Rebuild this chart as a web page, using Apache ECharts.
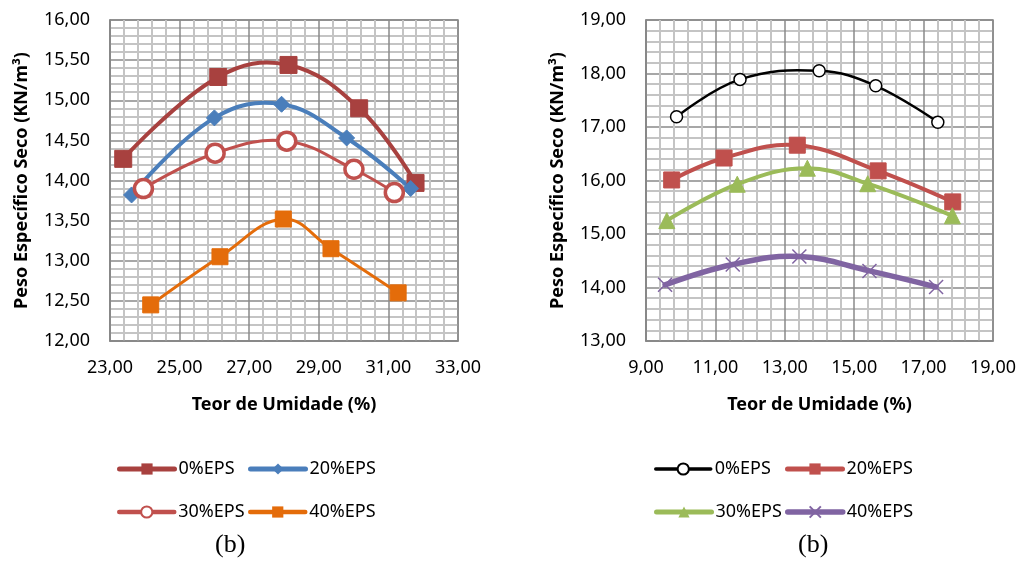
<!DOCTYPE html>
<html>
<head>
<meta charset="utf-8">
<script src="https://cdn.jsdelivr.net/npm/echarts@6/dist/echarts.min.js"></script>
<style>
  html, body { margin: 0; padding: 0; background: #fff; }
  #chart { width: 1019px; height: 578px; }
</style>
</head>
<body>
<div id="chart"></div>
<script>
// Compaction curves: dry unit weight vs. moisture content for EPS mixes

// Left panel
const leftNames = ['0%EPS', '20%EPS', '30%EPS', '40%EPS'];
const leftX0  = [23.38, 26.11, 28.13, 30.16, 31.78];
const leftY0  = [14.27, 15.29, 15.44, 14.90, 13.97];
const leftX20 = [23.62, 26.00, 27.93, 29.80, 31.64];
const leftY20 = [13.82, 14.78, 14.95, 14.53, 13.90];
const leftX30 = [23.96, 26.02, 28.08, 30.01, 31.17];
const leftY30 = [13.90, 14.34, 14.49, 14.14, 13.85];
const leftX40 = [24.17, 26.16, 27.98, 29.35, 31.28];
const leftY40 = [12.45, 13.05, 13.52, 13.15, 12.60];

// Right panel
const rightNames = ['0%EPS', '20%EPS', '30%EPS', '40%EPS'];
const rightX0  = [9.88, 11.71, 13.99, 15.62, 17.41];
const rightY0  = [17.19, 17.89, 18.05, 17.77, 17.09];
const rightX20 = [9.74, 11.25, 13.36, 15.69, 17.84];
const rightY20 = [16.01, 16.42, 16.66, 16.18, 15.60];
const rightX30 = [9.60, 11.63, 13.65, 15.39, 17.83];
const rightY30 = [15.25, 15.93, 16.23, 15.94, 15.34];
const rightX40 = [9.55, 11.50, 13.42, 15.44, 17.36];
const rightY40 = [14.05, 14.43, 14.58, 14.31, 14.01];

// Axis ranges / tick labels
const leftXTicks  = [23, 25, 27, 29, 31, 33];
const leftYTicks  = [12, 12.5, 13, 13.5, 14, 14.5, 15, 15.5, 16];
const rightXTicks = [9, 11, 13, 15, 17, 19];
const rightYTicks = [13, 14, 15, 16, 17, 18, 19];

const xTitle = 'Teor de Umidade (%)';
const yTitle = 'Peso Específico Seco (KN/m³)';
const panelTag = '(b)';

const FONT = '"Noto Sans", "Open Sans", sans-serif';
const pair = (xs, ys) => xs.map((x, i) => [x, ys[i]]);
const fmt = v => v.toFixed(2).replace('.', ',');

// Right-panel series names carry a prefix so each legend finds its own series
const RP = 'R:';

function valueAxis(gridIndex, ticks, isX) {
  const step = ticks[1] - ticks[0];
  return {
    type: 'value',
    gridIndex: gridIndex,
    min: ticks[0],
    max: ticks[ticks.length - 1],
    interval: step,
    name: isX ? xTitle : yTitle,
    nameLocation: 'middle',
    nameGap: isX ? 55 : 79,
    nameTextStyle: { fontFamily: FONT, fontWeight: 'bold', fontSize: 18, color: '#000' },
    axisLine: { show: true, lineStyle: { color: '#868686', width: 1.5 } },
    axisTick: { show: false },
    axisLabel: { formatter: fmt, fontFamily: FONT, fontSize: 18, color: '#000', margin: isX ? 18 : 20 },
    splitLine: { show: true, lineStyle: { color: '#8a8a8a', width: 1.5 } },
    minorTick: { show: false, splitNumber: 5 },
    minorSplitLine: { show: true, lineStyle: { color: '#c4c4c4', width: 2 } }
  };
}

const xMark = 'path://M0,0L10,10M10,0L0,10';

// Smoothed connecting curve, drawn once per series through the axis scales
function curveSeries(gi, data, color, lw) {
  return {
    type: 'custom',
    coordinateSystem: 'cartesian2d',
    xAxisIndex: gi,
    yAxisIndex: gi,
    data: data,
    encode: { x: 0, y: 1 },
    silent: true,
    z: 2,
    renderItem: function (params, api) {
      if (params.dataIndex !== 0) return null;
      const pts = data.map(p => api.coord(p));
      return {
        type: 'polyline',
        shape: { points: pts, smooth: 0.4 },
        style: { stroke: color, lineWidth: lw, fill: null, lineCap: 'round', lineJoin: 'round' }
      };
    }
  };
}

// Markers (and legend entry) for a series
function markSeries(name, gi, data, color, symbol, size, itemStyle) {
  return {
    name: name,
    type: 'line',
    xAxisIndex: gi,
    yAxisIndex: gi,
    data: data,
    symbol: symbol,
    symbolSize: size,
    showAllSymbol: true,
    lineStyle: { color: color, width: 0, opacity: 0 },
    itemStyle: itemStyle || { color: color, borderColor: color },
    z: 3
  };
}

const styles = [
  // left
  { name: leftNames[0], gi: 0, data: pair(leftX0, leftY0), color: '#a8413f', lw: 4, llw: 5, sym: 'rect', size: 17 },
  { name: leftNames[1], gi: 0, data: pair(leftX20, leftY20), color: '#4a7ebb', lw: 4, llw: 5, sym: 'diamond', size: 16 },
  { name: leftNames[2], gi: 0, data: pair(leftX30, leftY30), color: '#c0504d', lw: 3, llw: 4.5, sym: 'circle', size: 18,
    item: { color: '#fff', borderColor: '#c0504d', borderWidth: 3.5 } },
  { name: leftNames[3], gi: 0, data: pair(leftX40, leftY40), color: '#e46c0a', lw: 3, llw: 4.5, sym: 'rect', size: 16 },
  // right
  { name: RP + rightNames[0], gi: 1, data: pair(rightX0, rightY0), color: '#000000', lw: 2.5, llw: 3.5, sym: 'circle', size: 12,
    item: { color: '#fff', borderColor: '#000', borderWidth: 1.5 } },
  { name: RP + rightNames[1], gi: 1, data: pair(rightX20, rightY20), color: '#c0504d', lw: 4, llw: 5, sym: 'rect', size: 16 },
  { name: RP + rightNames[2], gi: 1, data: pair(rightX30, rightY30), color: '#9bbb59', lw: 4, llw: 5, sym: 'triangle', size: 16 },
  { name: RP + rightNames[3], gi: 1, data: pair(rightX40, rightY40), color: '#8064a2', lw: 5.5, llw: 5.5, sym: xMark, size: 14,
    item: { color: 'rgba(0,0,0,0)', borderColor: '#8064a2', borderWidth: 1.5 } }
];

const series = [];
styles.forEach(s => {
  series.push(curveSeries(s.gi, s.data, s.color, s.lw));
  series.push(markSeries(s.name, s.gi, s.data, s.color, s.sym, s.size, s.item));
});

function legendAt(s, left, top) {
  return {
    data: [s.name],
    left: left,
    top: top,
    orient: 'horizontal',
    itemWidth: 55,
    itemHeight: 14,
    itemGap: 0,
    selectedMode: false,
    lineStyle: { color: s.color, width: s.llw, opacity: 1, cap: 'round' },
    formatter: n => n.replace(RP, ''),
    textStyle: { fontFamily: FONT, fontSize: 18, color: '#000', padding: [0, 0, 0, -1] }
  };
}

const option = {
  animation: false,
  backgroundColor: '#fff',
  grid: [
    { left: 110, top: 20, width: 348, height: 321, show: true, borderColor: '#868686', borderWidth: 1.5, containLabel: false },
    { left: 646, top: 20, width: 347, height: 321, show: true, borderColor: '#868686', borderWidth: 1.5, containLabel: false }
  ],
  xAxis: [valueAxis(0, leftXTicks, true), valueAxis(1, rightXTicks, true)],
  yAxis: [valueAxis(0, leftYTicks, false), valueAxis(1, rightYTicks, false)],
  legend: [
    legendAt(styles[0], 112, 455),
    legendAt(styles[1], 243, 455),
    legendAt(styles[2], 112, 498),
    legendAt(styles[3], 243, 498),
    legendAt(styles[4], 649, 455),
    legendAt(styles[5], 780, 455),
    legendAt(styles[6], 649, 498),
    legendAt(styles[7], 780, 498)
  ],
  graphic: [
    { type: 'text', left: 232 - 17, top: 532, style: { text: panelTag, font: '26px "Liberation Serif", serif', fill: '#000' } },
    { type: 'text', left: 815 - 17, top: 532, style: { text: panelTag, font: '26px "Liberation Serif", serif', fill: '#000' } }
  ],
  series: series
};

const chart = echarts.init(document.getElementById('chart'), null, { renderer: 'canvas' });
chart.setOption(option);
</script>
</body>
</html>
